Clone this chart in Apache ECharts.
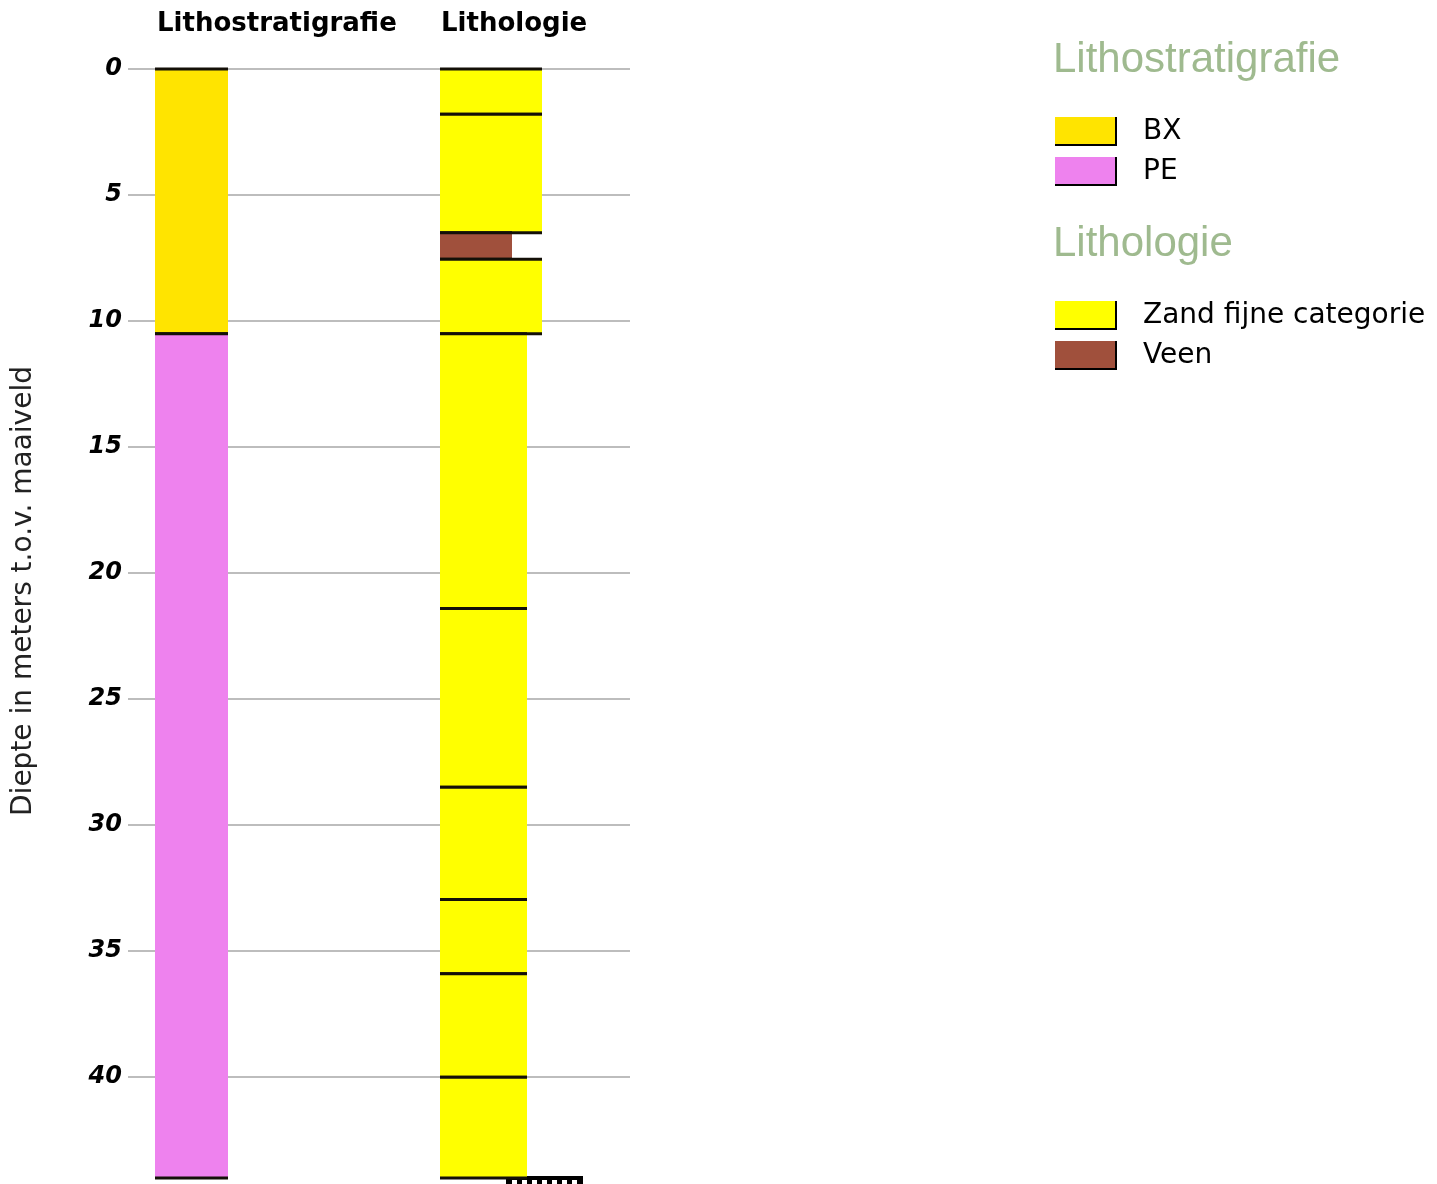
<!DOCTYPE html>
<html>
<head>
<meta charset="utf-8">
<script src="https://cdn.jsdelivr.net/npm/echarts@6/dist/echarts.min.js"></script>
<style>
  html, body { margin: 0; padding: 0; background: #ffffff; }
  #chart { width: 1437px; height: 1184px; }
</style>
</head>
<body>
<div id="chart"></div>
<script>
// ---------------- DATA ----------------
const depthTicks = [0, 5, 10, 15, 20, 25, 30, 35, 40];
const depthMax = 44;

const stratUnits  = ['BX', 'PE'];
const stratTop    = [0, 10.5];
const stratBottom = [10.5, 44.0];

const lithoTypes  = ['Zand fijne categorie', 'Zand fijne categorie', 'Veen', 'Zand fijne categorie',
                     'Zand fijne categorie', 'Zand fijne categorie', 'Zand fijne categorie',
                     'Zand fijne categorie', 'Zand fijne categorie', 'Zand fijne categorie'];
const lithoTop    = [0, 1.8, 6.5, 7.55, 10.5, 21.4, 28.5, 32.95, 35.9, 40.0];
const lithoBottom = [1.8, 6.5, 7.55, 10.5, 21.4, 28.5, 32.95, 35.9, 40.0, 44.0];

const stratLegend = ['BX', 'PE'];
const lithoLegend = ['Zand fijne categorie', 'Veen'];

// ---------------- LAYOUT / STYLE ----------------
const GRID_LEFT = 128, GRID_TOP = 69, GRID_RIGHT_PX = 630, GRID_BOTTOM_PX = 1178;
const STRAT_X = 155 - GRID_LEFT, STRAT_W = 73;
const LITHO_X = 440 - GRID_LEFT;
// column width per lithology layer (grain-size style widths)
const LITHO_W = [102, 102, 72, 102, 87, 87, 87, 87, 87, 87];

const COLORS = {
  'BX': '#FFE400',
  'PE': '#EE82EE',
  'Zand fijne categorie': '#FFFF00',
  'Veen': '#A0503C'
};
const LINE_COLOR = '#141008';

// ---------------- BUILD ----------------
const stratData = stratUnits.map((u, i) => [stratTop[i], stratBottom[i], i]);
const lithoData = lithoTypes.map((t, i) => [lithoTop[i], lithoBottom[i], i]);

function makeRender(kind) {
  return function (params, api) {
    const top = api.value(0), bot = api.value(1), idx = api.value(2);
    let x0, w, color;
    if (kind === 'strat') { x0 = STRAT_X; w = STRAT_W; color = COLORS[stratUnits[idx]]; }
    else { x0 = LITHO_X; w = LITHO_W[idx]; color = COLORS[lithoTypes[idx]]; }
    const p0 = api.coord([x0, top]);
    const p1 = api.coord([x0 + w, bot]);
    return {
      type: 'group',
      children: [
        { type: 'rect', shape: { x: p0[0], y: p0[1], width: p1[0] - p0[0], height: p1[1] - p0[1] },
          style: { fill: color } },
        { type: 'line', shape: { x1: p0[0], y1: p0[1], x2: p1[0], y2: p0[1] },
          style: { stroke: LINE_COLOR, lineWidth: 3 } },
        { type: 'line', shape: { x1: p0[0], y1: p1[1], x2: p1[0], y2: p1[1] },
          style: { stroke: LINE_COLOR, lineWidth: 3 } }
      ]
    };
  };
}

const legendGraphics = [];
function addLegendBlock(title, titleY, items, firstY) {
  legendGraphics.push({
    type: 'text', x: 1053, y: titleY,
    style: { text: title, font: '42px "Liberation Sans", Arial, sans-serif', fill: '#9fba8f',
             verticalAlign: 'middle', align: 'left' }
  });
  items.forEach((name, i) => {
    const y = firstY + i * 40;
    legendGraphics.push({
      type: 'rect', shape: { x: 1055, y: y - 14, width: 62, height: 29 },
      style: { fill: COLORS[name] }
    });
    legendGraphics.push({
      type: 'polyline', shape: { points: [[1116, y - 14], [1116, y + 14], [1055, y + 14]] },
      style: { stroke: '#000', lineWidth: 2, fill: null }
    });
    legendGraphics.push({
      type: 'text', x: 1143, y: y + 1,
      style: { text: name, font: '28px "DejaVu Sans", sans-serif', fill: '#000', verticalAlign: 'middle', align: 'left' }
    });
  });
}
addLegendBlock('Lithostratigrafie', 60, stratLegend, 131);
addLegendBlock('Lithologie', 244, lithoLegend, 315);

// small ruler at bottom of lithology column (decorative)
const rulerGraphics = [
  { type: 'rect', shape: { x: 506, y: 1176, width: 77, height: 8 }, style: { fill: '#000' } }
];
for (let k = 0; k < 7; k++) {
  rulerGraphics.push({ type: 'rect', shape: { x: 512 + k * 10, y: 1180, width: 5, height: 4 }, style: { fill: '#fff' } });
}

const chart = echarts.init(document.getElementById('chart'), null, { renderer: 'canvas' });
chart.setOption({
  backgroundColor: '#ffffff',
  animation: false,
  grid: {
    left: GRID_LEFT, top: GRID_TOP,
    width: GRID_RIGHT_PX - GRID_LEFT, height: GRID_BOTTOM_PX - GRID_TOP,
    containLabel: false
  },
  xAxis: {
    type: 'value', min: 0, max: GRID_RIGHT_PX - GRID_LEFT, show: false
  },
  yAxis: {
    type: 'value', inverse: true, min: 0, max: depthMax, interval: 5,
    axisLine: { show: false }, axisTick: { show: false },
    axisLabel: {
      margin: 6,
      fontFamily: '"DejaVu Sans", sans-serif', fontWeight: 'bold', fontStyle: 'italic',
      fontSize: 24, color: '#000',
      formatter: v => depthTicks.indexOf(v) >= 0 ? String(v) : ''
    },
    splitLine: { show: true, showMaxLine: false, lineStyle: { color: '#bdbdbd', width: 2 } }
  },
  series: [
    { type: 'custom', name: 'Lithostratigrafie', renderItem: makeRender('strat'),
      data: stratData, encode: { y: [0, 1] }, clip: false },
    { type: 'custom', name: 'Lithologie', renderItem: makeRender('litho'),
      data: lithoData, encode: { y: [0, 1] }, clip: false }
  ],
  graphic: [
    { type: 'text', x: 157, y: 24,
      style: { text: 'Lithostratigrafie', font: 'bold 26px "DejaVu Sans", sans-serif', fill: '#000',
               verticalAlign: 'middle', align: 'left' } },
    { type: 'text', x: 441, y: 24,
      style: { text: 'Lithologie', font: 'bold 26px "DejaVu Sans", sans-serif', fill: '#000',
               verticalAlign: 'middle', align: 'left' } },
    { type: 'text', x: 24, y: 591, rotation: Math.PI / 2,
      style: { text: 'Diepte in meters t.o.v. maaiveld', font: '28px "DejaVu Sans", sans-serif',
               fill: '#222', align: 'center', verticalAlign: 'middle' } }
  ].concat(legendGraphics, rulerGraphics)
});
</script>
</body>
</html>
